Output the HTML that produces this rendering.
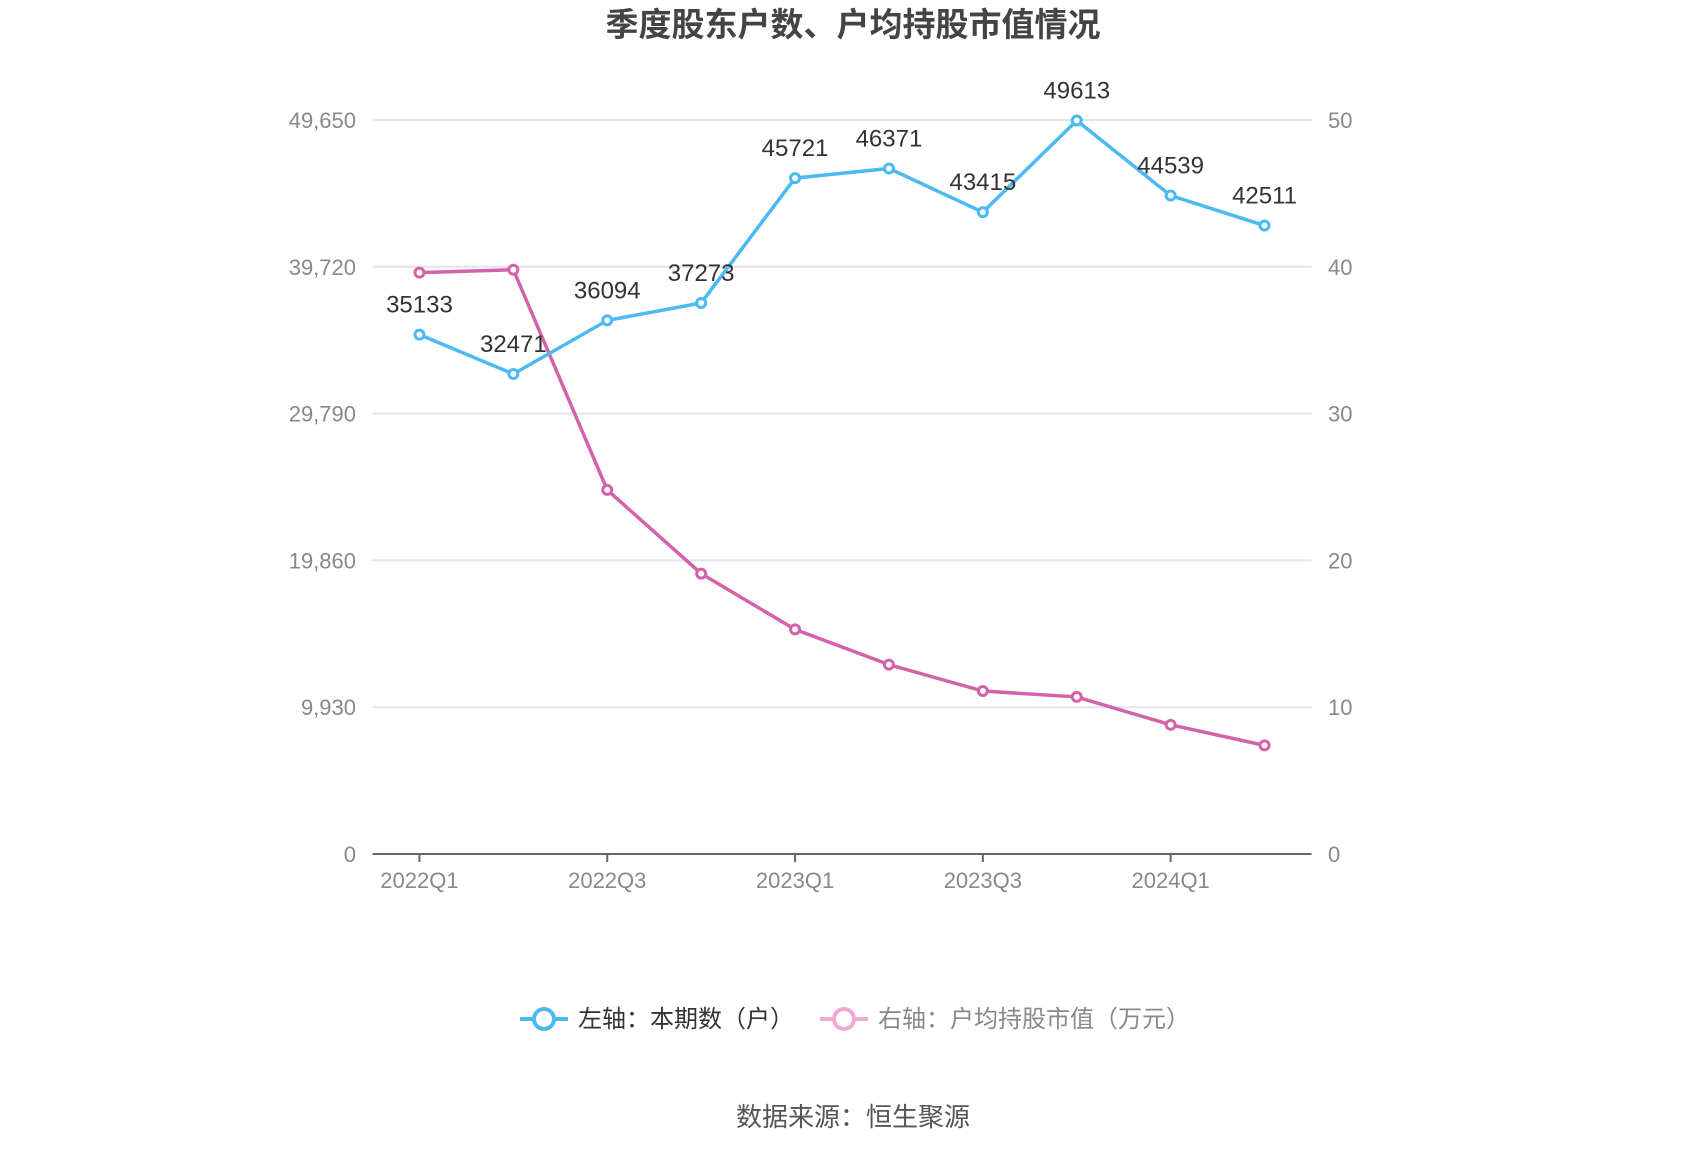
<!DOCTYPE html>
<html><head><meta charset="utf-8"><style>
body{margin:0;background:#fff;}
svg{display:block;font-family:"Liberation Sans","Noto Sans CJK SC",sans-serif;}
</style></head><body>
<svg id="chart" width="1700" height="1150">
<text x="853" y="36" text-anchor="middle" font-size="33" font-weight="bold" fill="#444">季度股东户数、户均持股市值情况</text>
<g id="grid"></g><g id="axes"></g><g id="series"></g>
<g>
<g>
<line x1="520" y1="1019" x2="568" y2="1019" stroke="#4bbaf1" stroke-width="4"/>
<circle cx="544" cy="1019" r="10" fill="#fff" stroke="#4bbaf1" stroke-width="4"/>
<text x="578" y="1027" font-size="24" fill="#333">左轴：本期数（户）</text></g>
<g>
<line x1="820" y1="1019" x2="868" y2="1019" stroke="#eeaad3" stroke-width="4"/>
<circle cx="844" cy="1019" r="10" fill="#fff" stroke="#eeaad3" stroke-width="4"/>
<text x="878" y="1027" font-size="24" fill="#888">右轴：户均持股市值（万元）</text></g>
</g>
<text x="853" y="1126" text-anchor="middle" font-size="26" fill="#555">数据来源：恒生聚源</text>
</svg>
<script>
const categories=["2022Q1","2022Q2","2022Q3","2022Q4","2023Q1","2023Q2","2023Q3","2023Q4","2024Q1","2024Q2"];
const holders=[35133,32471,36094,37273,45721,46371,43415,49613,44539,42511];
const avgValue=[39.6,39.8,24.8,19.1,15.3,12.9,11.1,10.7,8.8,7.4];
const leftTicks=[0,9930,19860,29790,39720,49650];
const rightTicks=[0,10,20,30,40,50];
const NS="http://www.w3.org/2000/svg";
const L=372.5,R=1311.5,T=120,B=854;
const band=(R-L)/categories.length;
const xs=i=>L+band*(i+0.5);
const yl=v=>B-(v/49650)*(B-T);
const yr=v=>B-(v/50)*(B-T);
function mk(tag,attrs,parent,txt){const e=document.createElementNS(NS,tag);for(const k in attrs)e.setAttribute(k,attrs[k]);if(txt!==undefined)e.textContent=txt;parent.appendChild(e);return e;}
const grid=document.getElementById('grid'),axes=document.getElementById('axes'),ser=document.getElementById('series');
leftTicks.forEach((t,i)=>{
 const y=yl(t);
 if(i>0){const g=mk('line',{x1:L,x2:R,y1:y,y2:y,stroke:'#dfe3ee','stroke-width':2},grid);
 
 }
 const a=mk('text',{x:356,y:y+8,'text-anchor':'end','font-size':22,fill:'#888'},axes,t.toLocaleString('en-US'));
 
 
});
rightTicks.forEach(t=>{
 const b=mk('text',{x:1328,y:yr(t)+8,'font-size':22,fill:'#888'},axes,String(t));
 
 
});
const ax=mk('line',{x1:L,x2:R,y1:B,y2:B,stroke:'#666','stroke-width':2},axes);


categories.forEach((c,i)=>{
 if(i%2===0){
 const tk=mk('line',{x1:xs(i),x2:xs(i),y1:B,y2:B+8,stroke:'#666','stroke-width':2},axes);
 
 
 const lb=mk('text',{x:xs(i),y:B+34,'text-anchor':'middle','font-size':22,fill:'#888'},axes,c);
 
 }
});
function series(vals,yf,color,name,labels){
 const p=mk('polyline',{points:vals.map((v,i)=>xs(i)+','+yf(v)).join(' '),fill:'none',stroke:color,'stroke-width':3.5},ser);
 
 
 vals.forEach((v,i)=>{
  const c=mk('circle',{cx:xs(i),cy:yf(v),r:4.5,fill:'#fff',stroke:color,'stroke-width':3},ser);
  
  
  if(labels){const t=mk('text',{x:xs(i),y:yf(v)-22,'text-anchor':'middle','font-size':24,fill:'#333'},ser,String(v));
  
  }
 });
}
series(avgValue,yr,'#d462a8','avg-value',false);
series(holders,yl,'#4bbaf1','holders',true);
</script>
</body></html>
